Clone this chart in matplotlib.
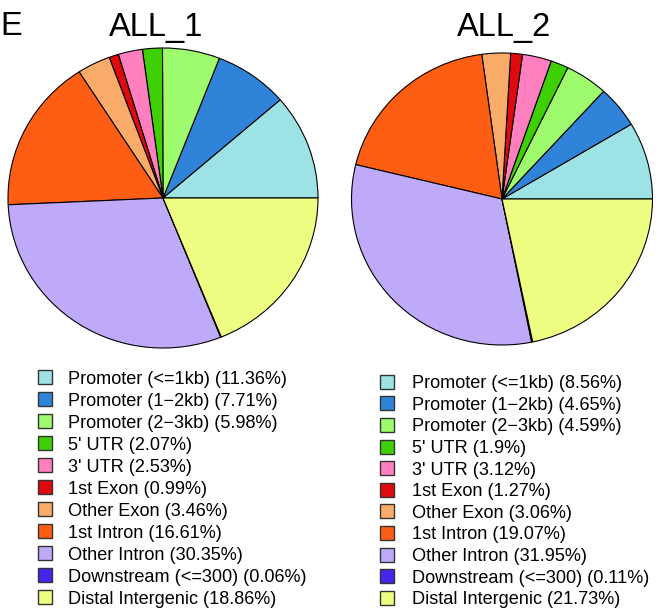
import matplotlib
matplotlib.use('Agg')
import matplotlib.pyplot as plt
from matplotlib.patches import Rectangle

plt.rcParams['font.family'] = ['Liberation Sans', 'DejaVu Sans']

features = ['Promoter (<=1kb)', 'Promoter (1\u22122kb)', 'Promoter (2\u22123kb)',
            "5' UTR", "3' UTR", '1st Exon', 'Other Exon', '1st Intron',
            'Other Intron', 'Downstream (<=300)', 'Distal Intergenic']
all1 = [11.36, 7.71, 5.98, 2.07, 2.53, 0.99, 3.46, 16.61, 30.35, 0.06, 18.86]
all2 = [8.56, 4.65, 4.59, 1.9, 3.12, 1.27, 3.06, 19.07, 31.95, 0.11, 21.73]
colors = ['#9DE3E6', '#2F83D9', '#9EFB6E', '#3ED005', '#FF7FBF', '#E0090F',
          '#F9AC6A', '#FE5E13', '#BFA9F9', '#4626EE', '#EEFE82']

W, H = 667, 612
fig = plt.figure(figsize=(W / 100, H / 100), dpi=100)


def px_axes(cx, cy, rx, ry):
    # axes box from pixel centre/radii (y from top)
    return fig.add_axes([(cx - rx) / W, (H - cy - ry) / H, 2 * rx / W, 2 * ry / H])


def draw_pie(cx, cy, rx, ry, vals, title, title_x):
    ax = px_axes(cx, cy, rx, ry)
    ax.pie(vals, colors=colors, startangle=0, counterclock=True, radius=1,
           wedgeprops=dict(edgecolor='black', linewidth=0.8, clip_on=False))
    ax.set_aspect('auto')
    ax.set_xlim(-1, 1)
    ax.set_ylim(-1, 1)
    ax.axis('off')
    fig.text(title_x / W, (H - 36) / H, title, ha='center', va='baseline', fontsize=23.5)


def draw_legend(sq_x, txt_x, y0, dy, vals):
    for i, (name, v) in enumerate(zip(features, vals)):
        yc = y0 + i * dy
        fig.add_artist(Rectangle(((sq_x - 7) / W, (H - yc - 7) / H), 14 / W, 14 / H,
                                 facecolor=colors[i], edgecolor='#333333', linewidth=1.0,
                                 transform=fig.transFigure))
        fig.text(txt_x / W, (H - yc - 6.5) / H, f'{name} ({v:g}%)',
                 ha='left', va='baseline', fontsize=13.1)


draw_pie(163, 198, 155, 150, all1, 'ALL_1', 156)
draw_pie(502, 199, 150.5, 146, all2, 'ALL_2', 504)

draw_legend(45, 68, 377, 22.0, all1)
draw_legend(387, 412, 381.7, 21.6, all2)

fig.text(0, (H - 35) / H, 'E', ha='left', va='baseline', fontsize=23.5)

fig.savefig('out.png', dpi=100)
